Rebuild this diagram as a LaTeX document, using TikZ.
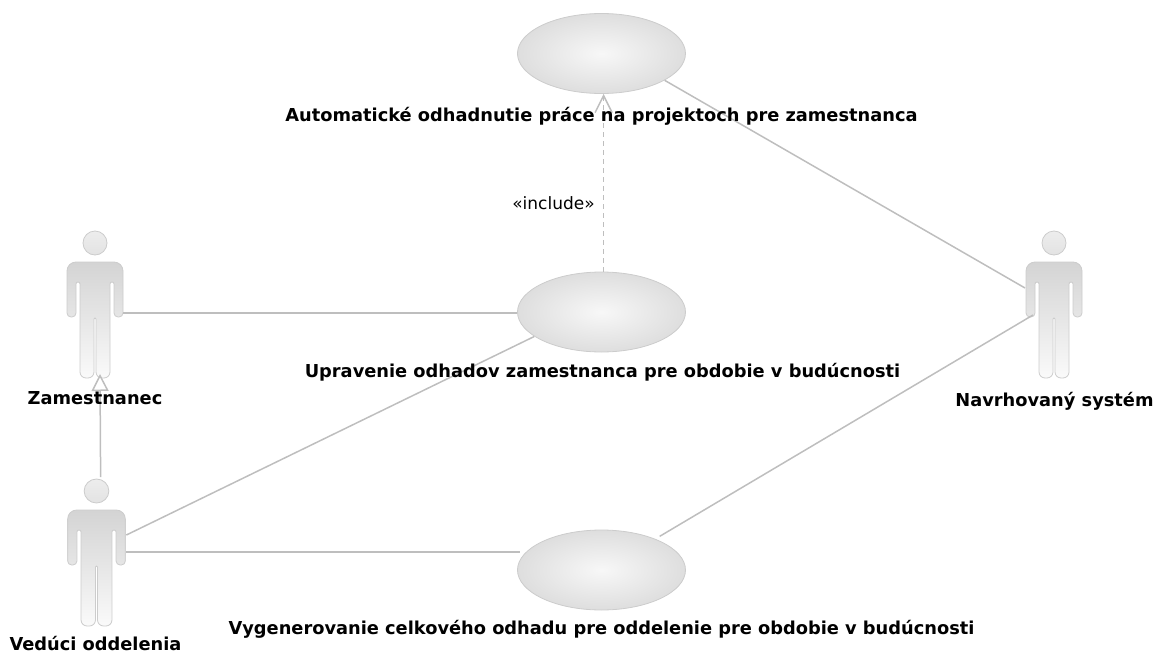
\documentclass[tikz,border=0pt]{standalone}
\usepackage{fontspec}
\setmainfont{DejaVu Sans}
\usetikzlibrary{shapes.geometric, arrows.meta}
\definecolor{linie}{HTML}{BEBEBE}
\definecolor{kontur}{HTML}{CCCCCC}
\tikzset{
    pripad/.style={
        ellipse,
        draw=kontur,               % Svetlosivy obrys
        inner color=white!97!black,
        outer color=black!13,
        minimum width=168pt,
        minimum height=80pt,
        inner sep=0pt,
        line width=0.8pt
    },
    hrana/.style={draw=linie, line width=1.5pt},
    titulok/.style={font=\bfseries\fontsize{17.8}{20}\selectfont, inner sep=0pt, text=black},
    aktor/.pic={
        % Hlava a telo, vztiahnute na stred hlavy
        \path[draw=kontur, line width=0.8pt, top color=black!7, bottom color=black!11]
            (0,0) circle (12pt);
        \path[draw=kontur, line width=0.8pt, top color=black!17, bottom color=black!2, rounded corners=6pt]
            (-15,42) -- (-15,135) -- (-1,135) [rounded corners=1pt] -- (-1,75) -- (1,75)
            [rounded corners=6pt] -- (1,135) -- (15,135) [rounded corners=2pt] -- (15,39) -- (19,39)
            [rounded corners=4pt] -- (19,74) -- (28,74) [rounded corners=9pt] -- (28,19) -- (-28,19)
            [rounded corners=4pt] -- (-28,74) -- (-19,74) [rounded corners=2pt] -- (-19,39) -- (-15,39) -- cycle;
        \coordinate (-ruka) at (28,70);
        \coordinate (-pas) at (29,61);
        \coordinate (-rameno) at (29,44);
        \coordinate (-lava) at (-29,45);
        \coordinate (-noha) at (-21,72);
        \coordinate (-hlava) at (4,-14);
        \coordinate (-spodok) at (5,131);
    }
}

\begin{document}
\begin{tikzpicture}[x=1pt, y=-1pt]

    \useasboundingbox (0,0) rectangle (1160,653);

    % Pripady pouzitia
    \node[pripad] (auto) at (601.5,53.5) {};
    \node[pripad] (uprava) at (601.5,312) {};
    \node[pripad] (celkovo) at (601.5,570) {};

    % Aktori
    \pic (zam) at (95,243) {aktor};
    \pic[xscale=1.03] (ved) at (96.5,491) {aktor};
    \pic (sys) at (1054,243) {aktor};

    % Spojnice
    \draw[hrana] (zam-ruka) -- (uprava.west |- zam-ruka);
    \draw[hrana] (ved-rameno) -- (uprava.200);
    \draw[hrana, shorten >=7pt] (ved-pas) -- (ved-pas -| celkovo.166);
    \draw[hrana] (sys-lava) -- (auto.-23);
    \draw[hrana, shorten >=5pt] (sys-noha) -- (celkovo.30);
    \draw[hrana, dashed, dash pattern=on 5pt off 4pt, -{Straight Barb[length=17pt, width=17pt]}]
        (uprava.87) -- (uprava.87 |- auto.south);
    \draw[hrana, -{Triangle[open, length=17pt, width=17pt]}] (ved-hlava) -- (zam-spodok);

    % Popisy
    \node[titulok] (t1) at (601.5,116) {Automatické odhadnutie práce na projektoch pre zamestnanca};
    \node[titulok] (t2) at (602.5,372) {Upravenie odhadov zamestnanca pre obdobie v budúcnosti};
    \node[titulok] (t3) at (601.5,629) {Vygenerovanie celkového odhadu pre oddelenie pre obdobie v budúcnosti};
    \node[titulok] (t4) at (95,398) {Zamestnanec};
    \node[titulok] (t5) at (95.5,644) {Vedúci oddelenia};
    \node[titulok] (t6) at (1054.5,401) {Navrhovaný systém};
    \node[inner sep=0pt, font=\fontsize{17}{19}\selectfont] (zahrna) at (553.5,203) {«include»};

\end{tikzpicture}
\end{document}
